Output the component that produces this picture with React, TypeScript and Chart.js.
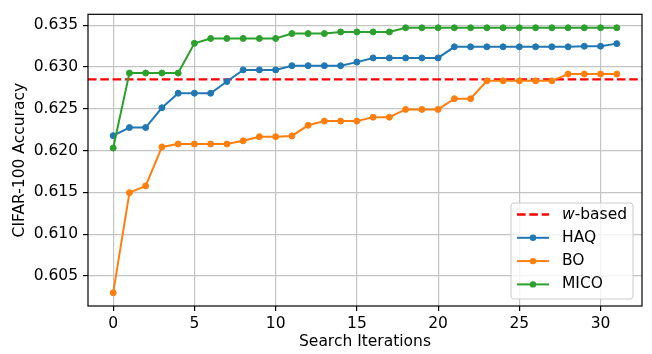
import React, { useEffect, useRef } from "react";
import { Chart, registerables } from "chart.js";

Chart.register(...registerables);

const iterations = [0, 1, 2, 3, 4, 5, 6, 7, 8, 9, 10, 11, 12, 13, 14, 15, 16, 17, 18, 19, 20, 21, 22, 23, 24, 25, 26, 27, 28, 29, 30, 31];

const haq = [0.62178, 0.62275, 0.62275, 0.62512, 0.62686, 0.62686, 0.62686, 0.62826, 0.62965, 0.62965, 0.62965, 0.63015, 0.63015, 0.63015, 0.63015, 0.63058, 0.63108, 0.63108, 0.63108, 0.63108, 0.63108, 0.63241, 0.63241, 0.63241, 0.63241, 0.63241, 0.63241, 0.63241, 0.63241, 0.63248, 0.63248, 0.63279];

const bo = [0.60298, 0.61496, 0.61577, 0.62043, 0.62078, 0.62078, 0.62078, 0.62078, 0.62116, 0.62166, 0.62166, 0.62175, 0.62302, 0.62352, 0.62352, 0.62352, 0.62399, 0.62399, 0.62492, 0.62492, 0.62492, 0.6262, 0.6262, 0.62834, 0.62834, 0.62834, 0.62834, 0.62834, 0.62915, 0.62915, 0.62915, 0.62915];

const mico = [0.6203, 0.62927, 0.62927, 0.62927, 0.62927, 0.63283, 0.63341, 0.63341, 0.63341, 0.63341, 0.63341, 0.63399, 0.63399, 0.63399, 0.63419, 0.63419, 0.63419, 0.63419, 0.63469, 0.63469, 0.63469, 0.63469, 0.63469, 0.63469, 0.63469, 0.63469, 0.63469, 0.63469, 0.63469, 0.63469, 0.63469, 0.63469];

const wBased = 0.62852;

const xTicks = [0, 5, 10, 15, 20, 25, 30];
const yTicks = [0.605, 0.61, 0.615, 0.62, 0.625, 0.63, 0.635];
const xMin = -1.55;
const xMax = 32.55;
const yMin = 0.6014;
const yMax = 0.6363;

const seriesNames = ["w-based", "HAQ", "BO", "MICO"];
const colors = { w: "#ff0000", haq: "#1f77b4", bo: "#ff7f0e", mico: "#2ca02c" };

const FONT = "DejaVu Sans";
const FS = 15.5;

const framePlugin = {
  id: "frameAndLegend",
  afterDraw(chart: any) {
    const { ctx, chartArea } = chart;
    const { left, top, right, bottom } = chartArea;
    ctx.save();
    ctx.strokeStyle = "#000";
    ctx.lineWidth = 1.2;
    ctx.strokeRect(left, top, right - left, bottom - top);

    const bw = 122;
    const bh = 96;
    const bx = right - 9 - bw;
    const by = bottom - 7 - bh;
    ctx.beginPath();
    (ctx as any).roundRect(bx, by, bw, bh, 3);
    ctx.fillStyle = "rgba(255,255,255,0.8)";
    ctx.fill();
    ctx.strokeStyle = "#cccccc";
    ctx.lineWidth = 1;
    ctx.stroke();

    const entries = [
      { name: seriesNames[0], color: colors.w, dashed: true },
      { name: seriesNames[1], color: colors.haq, dashed: false },
      { name: seriesNames[2], color: colors.bo, dashed: false },
      { name: seriesNames[3], color: colors.mico, dashed: false },
    ];
    entries.forEach((e, i) => {
      const y = by + 11.5 + i * 23.3;
      const x0 = bx + 6;
      const x1 = bx + 38;
      ctx.beginPath();
      ctx.strokeStyle = e.color;
      ctx.lineWidth = e.dashed ? 2.3 : 2;
      ctx.setLineDash(e.dashed ? [8.6, 3.7] : []);
      ctx.moveTo(x0, y);
      ctx.lineTo(x1, y);
      ctx.stroke();
      ctx.setLineDash([]);
      if (!e.dashed) {
        ctx.beginPath();
        ctx.fillStyle = e.color;
        ctx.arc((x0 + x1) / 2, y, 3.2, 0, Math.PI * 2);
        ctx.fill();
      }
      ctx.fillStyle = "#000";
      ctx.textBaseline = "middle";
      ctx.textAlign = "left";
      const tx = bx + 51;
      if (e.dashed) {
        ctx.font = `italic ${FS}px '${FONT}'`;
        ctx.fillText("w", tx, y);
        const ww = ctx.measureText("w").width;
        ctx.font = `${FS}px '${FONT}'`;
        ctx.fillText("-based", tx + ww, y);
      } else {
        ctx.font = `${FS}px '${FONT}'`;
        ctx.fillText(e.name, tx, y);
      }
    });
    ctx.restore();
  },
};

export default function App() {
  const ref = useRef<HTMLCanvasElement | null>(null);

  useEffect(() => {
    if (!ref.current) return;
    Chart.defaults.font.family = FONT;
    Chart.defaults.font.size = FS;
    Chart.defaults.color = "#000";

    const mk = (vals: number[]) => iterations.map((x, i) => ({ x, y: vals[i] }));
    const lineDs = (label: string, vals: number[], color: string, order: number) => ({
      label,
      data: mk(vals),
      borderColor: color,
      backgroundColor: color,
      pointBackgroundColor: color,
      pointBorderColor: color,
      borderWidth: 2,
      pointRadius: 3,
      pointBorderWidth: 1,
      showLine: true,
      order,
    });

    const chart = new Chart(ref.current, {
      type: "scatter",
      data: {
        datasets: [
          {
            label: seriesNames[0],
            data: [
              { x: xMin, y: wBased },
              { x: xMax, y: wBased },
            ],
            borderColor: colors.w,
            backgroundColor: colors.w,
            borderWidth: 2.3,
            borderDash: [8.6, 3.7],
            pointRadius: 0,
            showLine: true,
            order: 4,
          } as any,
          lineDs(seriesNames[1], haq, colors.haq, 3),
          lineDs(seriesNames[2], bo, colors.bo, 2),
          lineDs(seriesNames[3], mico, colors.mico, 1),
        ],
      },
      options: {
        responsive: false,
        animation: false,
        layout: { padding: { top: 7, right: 10, left: 0, bottom: 0 } },
        plugins: {
          legend: { display: false },
          tooltip: { enabled: false },
        },
        scales: {
          x: {
            type: "linear",
            min: xMin,
            max: xMax,
            afterBuildTicks: (scale: any) => {
              scale.ticks = xTicks.map((v) => ({ value: v }));
            },
            afterFit: (scale: any) => {
              scale.height = 48;
            },
            ticks: {
              padding: 4,
              maxRotation: 0,
              autoSkip: false,
              color: "#000",
              font: { size: FS },
              callback: (v: any) => String(v),
            },
            grid: {
              color: "#c4c4c4",
              lineWidth: 1.2,
              tickColor: "#000",
              tickWidth: 1.2,
              tickLength: 5,
              drawTicks: true,
            },
            border: { display: false },
            title: {
              display: true,
              text: "Search Iterations",
              color: "#000",
              font: { size: FS },
              padding: { top: 0, bottom: 3 },
            },
          },
          y: {
            type: "linear",
            min: yMin,
            max: yMax,
            afterBuildTicks: (scale: any) => {
              scale.ticks = yTicks.map((v) => ({ value: v }));
            },
            afterFit: (scale: any) => {
              scale.width = 88;
            },
            ticks: {
              padding: 5,
              autoSkip: false,
              color: "#000",
              font: { size: FS },
              callback: (v: any) => Number(v).toFixed(3),
            },
            grid: {
              color: "#c4c4c4",
              lineWidth: 1.2,
              tickColor: "#000",
              tickWidth: 1.2,
              tickLength: 5,
              drawTicks: true,
            },
            border: { display: false },
            title: {
              display: true,
              text: "CIFAR-100 Accuracy",
              color: "#000",
              font: { size: FS },
              padding: { top: 11, bottom: 0 },
            },
          },
        },
      } as any,
      plugins: [framePlugin],
    });
    return () => chart.destroy();
  }, []);

  return (
    <div style={{ position: "absolute", left: 0, top: 0, width: 652, height: 354 }}>
      <canvas ref={ref} width={652} height={354} style={{ display: "block", width: 652, height: 354 }} />
    </div>
  );
}
